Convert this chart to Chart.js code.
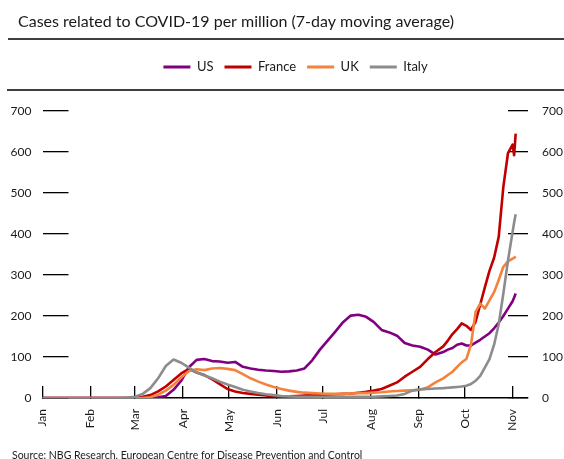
<!DOCTYPE html>
<html>
<head>
<meta charset="utf-8">
<script src="https://cdn.jsdelivr.net/npm/chart.js@4.4.0/dist/chart.umd.min.js"></script>
<style>
  html, body { margin: 0; padding: 0; background: #fff; }
</style>
</head>
<body>
<canvas id="chart" width="564" height="459"></canvas>
<script>
const titleText = "Cases related to COVID-19 per million (7-day moving average)";
const sourceText = "Source: NBG Research, European Centre for Disease Prevention and Control";

// day of year 2020 (0 = 1 Jan)
const days = [0, 5, 10, 15, 20, 25, 30, 35, 40, 45, 50, 55, 60, 65, 70, 75, 80, 85, 90, 95,
  100, 105, 110, 115, 120, 125, 130, 135, 140, 145, 150, 155, 160, 165, 170, 175, 180, 185, 190, 195,
  200, 205, 210, 215, 220, 225, 230, 235, 240, 245, 250, 255, 260,
  263, 266, 269, 272, 275, 278, 281, 284, 287, 290, 293, 296, 299, 302, 305, 306, 307];

const usValues = [0, 0, 0, 0, 0, 0, 0, 0, 0, 0, 0, 0, 0, 0, 0,
  2, 5, 20, 42, 75, 93, 95, 90, 89, 86, 88, 76, 72, 69, 67, 66, 64, 65, 67, 72, 92, 118, 140, 162, 185,
  201, 203, 198, 185, 166, 160, 152, 134, 128, 125, 118, 106, 112,
  118, 122, 130, 133, 128, 128, 135, 142, 150, 158, 170, 184, 200, 218, 236, 245, 255];

const franceValues = [0, 0, 0, 0, 0, 0, 0, 0, 0, 0, 0, 0,
  1, 3, 7, 16, 28, 44, 60, 71, 62, 56, 46, 34, 22, 16, 12, 10, 8, 6, 4, 3, 4, 5, 6, 7, 7, 8, 9, 10,
  11, 13, 15, 18, 22, 30, 38, 52, 64, 76, 95, 112, 126,
  140, 156, 168, 182, 176, 166, 186, 228, 270, 310, 342, 393, 515, 597, 618, 592, 645];

const ukValues = [0, 0, 0, 0, 0, 0, 0, 0, 0, 0, 0, 0, 0, 0,
  2, 8, 18, 32, 50, 66, 70, 68, 72, 73, 71, 68, 58, 48, 40, 33, 27, 22, 18, 15, 13, 12, 11, 10, 10, 10,
  11, 12, 12, 13, 14, 16, 17, 18, 19, 20, 26, 38, 48,
  56, 64, 76, 87, 95, 130, 210, 230, 218, 238, 258, 288, 320, 333, 340, 342, 345];

const italyValues = [0, 0, 0, 0, 0, 0, 0, 0, 0, 0, 0,
  1, 3, 10, 24, 48, 78, 94, 86, 74, 62, 55, 48, 40, 33, 27, 20, 16, 12, 9, 7, 5, 4, 3, 3, 3, 3, 3, 3, 3,
  3, 3, 3, 3, 4, 5, 6, 10, 18, 21, 22, 23, 24,
  25, 26, 27, 28, 30, 34, 42, 54, 74, 95, 130, 180, 255, 335, 405, 428, 448];

const monthStarts = [0, 31, 60, 91, 121, 152, 182, 213, 244, 274, 305];
const monthLabels = ["Jan", "Feb", "Mar", "Apr", "May", "Jun", "Jul", "Aug", "Sep", "Oct", "Nov"];
const yTicks = [0, 100, 200, 300, 400, 500, 600, 700];

const FONT = "Lato, 'Open Sans', sans-serif";
const TEXT = "#1a1a1a";
Chart.defaults.font.family = FONT;
Chart.defaults.color = TEXT;

const toPoints = (vals) => days.map((d, i) => ({ x: d, y: vals[i] }));

const decor = {
  id: "decor",
  afterLayout(chart) {
    // nudge title and legend to where the original sits
    if (chart.titleBlock) chart.titleBlock.left = 18;
    if (chart.legend) { chart.legend.left += 13.5; chart.legend.right += 13.5; }
  },
  afterDraw(chart) {
    const c = chart.ctx;
    c.save();
    c.strokeStyle = "#000";
    c.lineWidth = 1.5;
    c.beginPath();
    c.moveTo(8, 39); c.lineTo(564, 39);
    c.moveTo(7, 90); c.lineTo(564, 90);
    c.stroke();
    c.fillStyle = TEXT;
    c.font = "10.5px " + FONT;
    c.textBaseline = "middle";
    c.fillText(sourceText, 12, 456);
    c.restore();
  }
};

new Chart(document.getElementById("chart"), {
  type: "line",
  data: {
    datasets: [
      { label: "US", data: toPoints(usValues), borderColor: "#800080", order: 3 },
      { label: "France", data: toPoints(franceValues), borderColor: "#C00000", order: 2 },
      { label: "UK", data: toPoints(ukValues), borderColor: "#F4823C", order: 1 },
      { label: "Italy", data: toPoints(italyValues), borderColor: "#8C8C8C", order: 0 }
    ]
  },
  options: {
    responsive: false,
    animation: false,
    layout: { padding: 0 },
    elements: {
      point: { radius: 0 },
      line: { borderWidth: 2.6, tension: 0, borderJoinStyle: "round", fill: false }
    },
    plugins: {
      title: {
        display: true, text: titleText, align: "start", color: TEXT,
        font: { size: 16, weight: "normal" },
        padding: { top: 12, bottom: 18.3 }
      },
      legend: {
        display: true, position: "top", align: "center",
        labels: {
          boxWidth: 27, boxHeight: 3, padding: 11, color: TEXT,
          font: { size: 13 },
          sort: (a, b) => a.datasetIndex - b.datasetIndex,
          generateLabels(chart) {
            return Chart.defaults.plugins.legend.labels.generateLabels(chart)
              .map(l => ({ ...l, lineWidth: 0, fillStyle: l.strokeStyle }));
          }
        }
      },
      subtitle: {
        display: true, text: " ", position: "top", weight: 500,
        font: { size: 10, lineHeight: 1 },
        padding: { top: 0, bottom: 17.5 }
      },
      tooltip: { enabled: false }
    },
    scales: {
      x: {
        type: "linear", min: 0, max: 315,
        afterBuildTicks: s => { s.ticks = monthStarts.map(v => ({ value: v })); },
        afterFit: s => { s.height = 61; },
        ticks: {
          autoSkip: false, minRotation: 90, maxRotation: 90, padding: 23,
          font: { size: 12 }, color: TEXT,
          callback: v => monthLabels[monthStarts.indexOf(v)]
        },
        grid: { drawOnChartArea: false, drawTicks: true, tickLength: -12, color: "#000", lineWidth: 1.3 },
        border: { display: true, color: "#000", width: 1.5 }
      },
      y: {
        position: "left", min: 0, max: 700,
        afterBuildTicks: s => { s.ticks = yTicks.map(v => ({ value: v })); },
        afterFit: s => { s.width = 42.5; },
        ticks: { padding: 37, font: { size: 12 }, color: TEXT },
        grid: { drawOnChartArea: false, drawTicks: true, tickLength: -26, color: "#000", lineWidth: 1.3 },
        border: { display: false }
      },
      y2: {
        position: "right", min: 0, max: 700,
        afterBuildTicks: s => { s.ticks = yTicks.map(v => ({ value: v })); },
        afterFit: s => { s.width = 36; },
        ticks: { padding: 34, font: { size: 12 }, color: TEXT },
        grid: { drawOnChartArea: false, drawTicks: true, tickLength: -20, color: "#000", lineWidth: 1.3 },
        border: { display: false }
      }
    }
  },
  plugins: [decor]
});
</script>
</body>
</html>
